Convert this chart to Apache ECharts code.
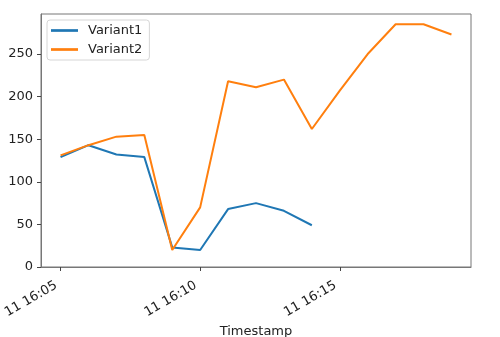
<!DOCTYPE html>
<html><head><meta charset="utf-8">
<script src="https://cdn.jsdelivr.net/npm/echarts@6/dist/echarts.min.js"></script>
<style>html,body{margin:0;padding:0;background:#fff}#c{width:500px;height:337px}</style>
</head><body><div id="c"></div>
<script>
const times = ['16:05','16:06','16:07','16:08','16:09','16:10','16:11','16:12','16:13','16:14','16:15','16:16','16:17','16:18','16:19'];
const variant1 = [129,143,132,129,23,20,68,75,66,49];
const variant2 = [131,143,153,155,20,70,218,211,220,162,207,250,285,285,273];
const xTickValues = [5,10,15];
const xTickLabels = ['11 16:05','11 16:10','11 16:15'];
const yTicks = [0,50,100,150,200,250];

const toMin = t => { const p = t.split(':'); return (+p[0]-16)*60 + (+p[1]); };
const s1 = variant1.map((v,i)=>[toMin(times[i]), v]);
const s2 = variant2.map((v,i)=>[toMin(times[i]), v]);
const font = 'DejaVu Sans';
const chart = echarts.init(document.getElementById('c'));
chart.setOption({
  animation:false,
  textStyle:{fontFamily:font},
  grid:{left:41,right:29,top:14,bottom:70,outerBoundsMode:'none',containLabel:false,show:true,borderColor:'#777',borderWidth:1,backgroundColor:'transparent'},
  legend:{
    left:47, top:20, orient:'vertical', itemWidth:27, itemHeight:12, itemGap:6,
    padding:[4,7,4,4], borderColor:'#d6d6d6', borderWidth:1, borderRadius:3,
    textStyle:{fontFamily:font,fontSize:13,color:'#222',padding:[0,0,0,5]},
    data:[{name:'Variant1',icon:'path://M0,0H10V1H0Z'},{name:'Variant2',icon:'path://M0,0H10V1H0Z'}]
  },
  xAxis:{
    type:'value', min:4.3, max:19.7,
    name:'Timestamp', nameLocation:'middle', nameGap:54,
    nameTextStyle:{fontFamily:font,fontSize:13,color:'#222'},
    splitLine:{show:false},
    axisLine:{lineStyle:{color:'#777'}},
    axisTick:{customValues:xTickValues,length:4,lineStyle:{color:'#444'}},
    axisLabel:{customValues:xTickValues,rotate:30,fontSize:13,color:'#222',margin:15,padding:[0,5,0,0],
      formatter:v=>xTickLabels[xTickValues.indexOf(v)]}
  },
  yAxis:{
    type:'value', min:0, max:297,
    splitLine:{show:false},
    axisLine:{show:true,lineStyle:{color:'#777'}},
    axisTick:{show:true,customValues:yTicks,length:4,lineStyle:{color:'#444'}},
    axisLabel:{customValues:yTicks,fontSize:13,color:'#222',margin:8}
  },
  series:[
    {name:'Variant1',type:'line',data:s1,symbol:'none',color:'#1f77b4',lineStyle:{width:2,color:'#1f77b4'}},
    {name:'Variant2',type:'line',data:s2,symbol:'none',color:'#ff7f0e',lineStyle:{width:2,color:'#ff7f0e'}}
  ]
});
</script></body></html>
